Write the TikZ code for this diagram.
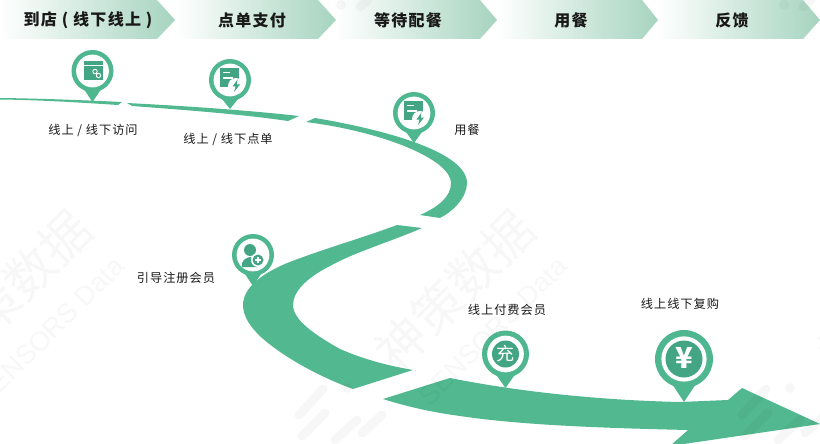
\documentclass[tikz,border=0pt]{standalone}
\usepackage{fontspec}
\usepackage{xcolor}
\usepackage{tikz}
\usetikzlibrary{positioning,calc}
\newfontfamily\cjk[LetterSpace=8]{Noto Sans CJK SC}
\newfontfamily\cjkplain{Noto Sans CJK SC}
\setsansfont{Liberation Sans}
\definecolor{roadgreen}{HTML}{52B890}
\definecolor{pingreen}{HTML}{4FB78F}
\definecolor{icongreen}{HTML}{43A583}
\definecolor{chevgreen}{HTML}{A6D4BF}
\tikzset{
  roadpart/.style={fill=roadgreen, draw=none},
  headtext/.style={font=\cjk\bfseries\fontsize{16}{17}\selectfont, text=black!90},
  pintext/.style={font=\cjk\fontsize{12.2}{13}\selectfont, text=black!90},
  icontext/.style={font=\cjkplain\fontsize{#1}{#1}\selectfont, text=white},
  markbar/.style={line width=9pt, line cap=round, black, opacity=.03},
  marktext/.style={black, opacity=.03, rotate=45, inner sep=0pt}
}
% chevron: start, body end, tip
\newcommand{\chevron}[3]{
  \shade[left color=white, right color=chevgreen]
    (#1,0) -- (#2,0) -- (#3,20) -- (#2,39) -- (#1,39) -- cycle;
}
% pin: centre x, centre y, radius, tip y
\newcommand{\mappin}[4]{
  \fill[pingreen] (#1,#2) circle [radius=#3];
  \fill[pingreen] ($(#1,#2)+(-#3*.42,#3*.85)$) -- (#1,#4) -- ($(#1,#2)+(#3*.42,#3*.85)$) -- cycle;
  \fill[white] (#1,#2) circle [radius=#3*.78];
}
\newcommand{\sheeticon}[2]{
  \begin{scope}[shift={(#1,#2)}]
    \fill[icongreen] (-10,-12) rectangle (9,7);
    \fill[white] (-7,-8) rectangle (0,-6.6);
    \fill[white] (-7,-2.5) rectangle (3,-1.1);
    \fill[white] (6,6) circle [radius=8];
    \fill[icongreen] (7.5,-0.5) -- (2.5,6.5) -- (5.5,6.5) -- (4,12) -- (10,4.5) -- (6.8,4.5) -- cycle;
  \end{scope}
}
\begin{document}
\begin{tikzpicture}[x = 1pt, y = -1pt]
\path[use as bounding box, clip] (0,0) rectangle (820,444);
\fill[white] (0,0) rectangle (820,444);

% header
\chevron{0}{157}{175}
\chevron{175}{318}{336}
\chevron{336}{480}{497}
\chevron{497}{642}{658}
\chevron{658}{803}{820}
\node[headtext] (h1) at (88, 20) {到店 ( 线下线上 )};
\node[headtext] (h2) at (252, 20) {点单支付};
\node[headtext] (h3) at (408, 20) {等待配餐};
\node[headtext] (h4) at (571, 20) {用餐};
\node[headtext] (h5) at (732, 20) {反馈};

% pin under the road
\mappin{253}{255}{21}{286}
\begin{scope}[shift={(253,255)}]
  \fill[icongreen] (-3,-5) circle [radius=6];
  \fill[icongreen] (-11,12) .. controls (-12,5) and (-7,3) .. (-3,2) .. controls (1,3) and (5,5) .. (5,12) -- cycle;
  \fill[white] (5,5) circle [radius=7];
  \fill[icongreen] (5,5) circle [radius=5.5];
  \draw[white, line width=1.2pt] (2,5) -- (8,5) (5,2) -- (5,8);
\end{scope}

% road
\fill[roadpart] (0,98) .. controls (40,98.5) and (80,100) .. (122,102) -- (118,105) .. controls (80,102.5) and (40,100) .. (0,99.5) -- cycle;
\fill[roadpart] (127,103) .. controls (185,106) and (245,110) .. (299,116) -- (288,121) .. controls (240,114) and (185,110) .. (132,106) -- cycle;
\fill[roadpart] (306,122) -- (315,118) .. controls (375,128) and (467,150) .. (467,183) .. controls (467,198) and (452,212) .. (440,218) -- (420,215) .. controls (438,207) and (451,197) .. (451,183) .. controls (451,160) and (385,132) .. (306,122) -- cycle;
\fill[roadpart] (397,225) -- (422,228) .. controls (390,242) and (355,252) .. (330,266) .. controls (310,276) and (293,290) .. (293,305) .. controls (293,320) and (315,335) .. (340,349) .. controls (365,360) and (390,366) .. (413,370) -- (353,389) .. controls (320,377) and (285,358) .. (262,338) .. controls (250,327) and (243,316) .. (243,305) .. controls (243,288) and (262,272) .. (295,260) .. controls (330,247) and (365,237) .. (397,225) -- cycle;
\fill[roadpart] (383,399) -- (450,378) .. controls (510,390) and (590,400) .. (680,402) -- (728,400) -- (742,388) -- (820,424) -- (670,446) -- (688,430) .. controls (600,428) and (520,425) .. (460,416) .. controls (430,412) and (405,406) .. (383,399) -- cycle;

% pins
\mappin{92.5}{71}{21}{102}
\begin{scope}[shift={(92.5,71)}]
  \fill[icongreen] (-8.5,-10) rectangle (10.5,9);
  \draw[white, line width=.8pt] (-8.5,-6) -- (10.5,-6);
  \draw[white, line width=.9pt] (2.5,0.5) circle [radius=2.2] (6,4.5) circle [radius=2.2];
\end{scope}
\mappin{230}{80}{21}{109}
\sheeticon{230}{80}
\mappin{414}{113}{21}{143}
\sheeticon{414}{113}
\mappin{505.5}{354}{23.5}{388}
\fill[icongreen] (505.5,354) circle [radius=13.5];
\node[icontext=18] (chong) at (505.5,354) {充};
\mappin{684}{359}{29}{402}
\fill[icongreen] (684,359) circle [radius=18.5];
\node[icontext=29, font=\cjkplain\bfseries\fontsize{29}{29}\selectfont] (yen) at (684,358) {¥};

% labels
\node[pintext] (l1) at (93, 130) {线上 / 线下访问};
\node[pintext] (l2) at (228, 139) {线上 / 线下点单};
\node[pintext] (l3) at (467, 130) {用餐};
\node[pintext] (l4) at (176, 278) {引导注册会员};
\node[pintext] (l5) at (507, 310) {线上付费会员};
\node[pintext] (l6) at (680, 304) {线上线下复购};

% watermark
\foreach \dx in {-443, 0, 443} {
  \node[marktext, font=\cjkplain\fontsize{50}{50}\selectfont] (wm\dx) at (455+\dx, 290) {神策数据};
  \node[marktext, font=\sffamily\fontsize{27}{27}\selectfont] (ws\dx) at (493+\dx, 331) {SENSORS Data};
  \draw[markbar] (299+\dx,415) -- (323+\dx,389);
  \draw[markbar] (302+\dx,436) -- (325+\dx,413);
  \draw[markbar] (335+\dx,440) -- (357+\dx,420);
  \draw[markbar] (362+\dx,433) -- (382+\dx,415);
  \fill[black, opacity=.03] (347+\dx,388) circle [radius=5];
  \fill[black, opacity=.03] (341+\dx,5) circle [radius=5];
  \draw[markbar] (360+\dx,7) -- (368+\dx,0);
}
\end{tikzpicture}
\end{document}
